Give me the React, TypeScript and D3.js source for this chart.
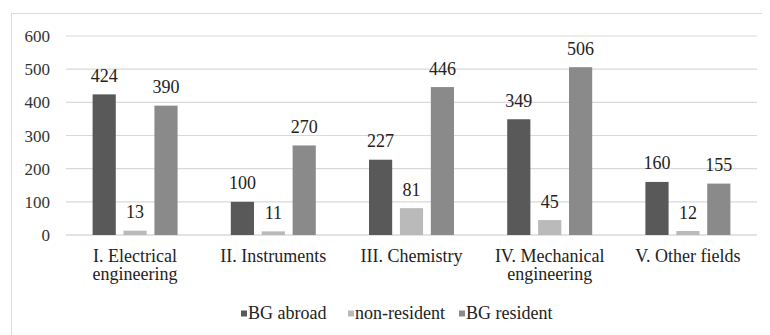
import React, { useEffect, useRef } from "react";
import * as d3 from "d3";

const categories = [
  ["I. Electrical", "engineering"],
  ["II. Instruments"],
  ["III. Chemistry"],
  ["IV. Mechanical", "engineering"],
  ["V. Other fields"],
];
const seriesNames = ["BG abroad", "non-resident", "BG resident"];
const bgAbroad = [424, 100, 227, 349, 160];
const nonResident = [13, 11, 81, 45, 12];
const bgResident = [390, 270, 446, 506, 155];
const yTicks = [0, 100, 200, 300, 400, 500, 600];
const colors = ["#595959", "#bababa", "#8a8a8a"];

const W = 770;
const H = 335;
const OX = -8;
const OY = -8;
const FONT = "Times New Roman";

export default function App() {
  const ref = useRef<SVGSVGElement | null>(null);

  useEffect(() => {
    const svg = d3.select(ref.current);
    svg.selectAll("*").remove();
    const seriesValues = [bgAbroad, nonResident, bgResident];
    const catKeys = categories.map((c) => c.join(" "));
    const x0 = d3.scaleBand<string>().domain(catKeys).range([66 + OX, 757 + OX]);
    const x1 = d3.scaleBand<string>().domain(seriesNames).range([-42.5, 42.5]).paddingInner(0.25);
    const y = d3.scaleLinear().domain([0, 600]).range([235 + OY, 36 + OY]);

    svg.append("rect").attr("width", W).attr("height", H).attr("fill", "#fff");
    svg
      .append("rect")
      .attr("x", 11.5 + OX)
      .attr("y", 13.5 + OY)
      .attr("width", W)
      .attr("height", H)
      .attr("fill", "#fff")
      .attr("stroke", "#d9d9d9");

    const g = svg.append("g").attr("font-family", FONT).attr("fill", "#222");

    yTicks.forEach((t) => {
      g.append("line")
        .attr("x1", 66 + OX)
        .attr("x2", 757 + OX)
        .attr("y1", y(t))
        .attr("y2", y(t))
        .attr("stroke", t === 0 ? "#c8c8c8" : "#d9d9d9")
        .attr("stroke-width", 1.2);
      g.append("text")
        .attr("x", 50 + OX)
        .attr("y", y(t) + 6)
        .attr("text-anchor", "end")
        .attr("font-size", 17)
        .attr("fill", "#333")
        .text(String(t));
    });

    catKeys.forEach((ck, ci) => {
      const cx = (x0(ck) as number) + x0.bandwidth() / 2;
      seriesNames.forEach((s, si) => {
        const v = seriesValues[si][ci];
        const bx = cx + (x1(s) as number);
        g.append("rect")
          .attr("x", bx)
          .attr("y", y(v))
          .attr("width", x1.bandwidth())
          .attr("height", y(0) - y(v))
          .attr("fill", colors[si]);
        g.append("text")
          .attr("x", bx + x1.bandwidth() / 2)
          .attr("y", y(v) - 12.5)
          .attr("text-anchor", "middle")
          .attr("font-size", 18)
          .text(String(v));
      });
      categories[ci].forEach((line, li) => {
        g.append("text")
          .attr("x", cx)
          .attr("y", 262 + OY + li * 18)
          .attr("text-anchor", "middle")
          .attr("font-size", 18)
          .text(line);
      });
    });

    const legendX = [241 + OX, 348 + OX, 459 + OX];
    seriesNames.forEach((s, si) => {
      g.append("rect")
        .attr("x", legendX[si])
        .attr("y", 310.5 + OY)
        .attr("width", 6)
        .attr("height", 6)
        .attr("fill", colors[si]);
      g.append("text")
        .attr("x", legendX[si] + 7)
        .attr("y", 318.5 + OY)
        .attr("font-size", 18)
        .text(s);
    });
  }, []);

  return <svg ref={ref} width={W} height={H} />;
}
